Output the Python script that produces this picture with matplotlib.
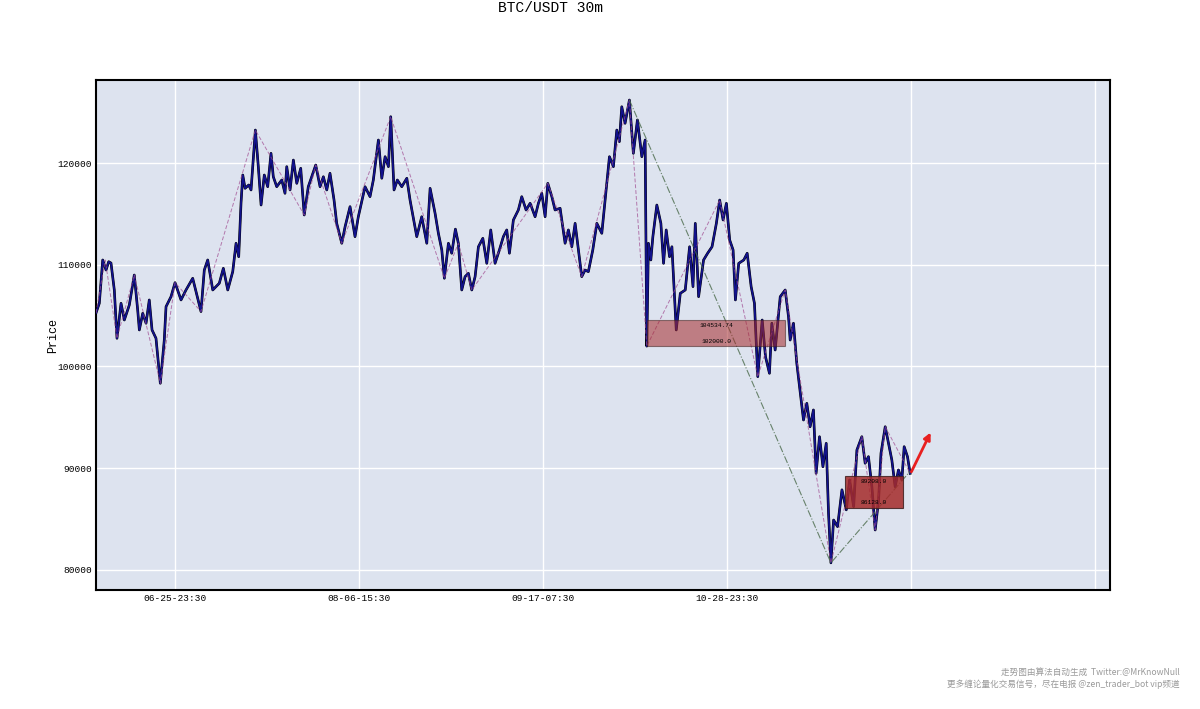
import numpy as np
import matplotlib.pyplot as plt

plt.rcParams["font.family"] = ["Liberation Mono", "Noto Sans CJK SC", "DejaVu Sans"]

# price path (bar index, price), 30m bars
bars = [0, 36, 73, 109, 138, 163, 199, 228, 272, 308, 362, 416, 453, 471, 508, 544,
        579, 609, 652, 699, 742, 761, 815, 859, 924, 978, 1051, 1141, 1177, 1214,
        1269, 1340, 1384, 1432, 1486, 1522, 1551, 1576, 1595, 1620, 1660, 1685,
        1732, 1764, 1794, 1829, 1866, 1902, 1927, 1964, 2019, 2054, 2073, 2109,
        2145, 2182, 2225, 2263, 2307, 2388, 2435, 2471, 2508, 2543, 2587, 2616,
        2671, 2707, 2761, 2815, 2851, 2924, 2978, 3014, 3069, 3106, 3142, 3178,
        3203, 3239, 3275, 3323, 3378, 3413, 3486, 3540, 3595, 3631, 3685, 3721,
        3758, 3786, 3830, 3866, 3906, 3938, 3975, 4011, 4047, 4084, 4120, 4156,
        4204, 4247, 4290, 4337, 4384, 4427, 4464, 4493, 4536, 4590, 4627, 4674,
        4718, 4772, 4808, 4845, 4881, 4910, 4954, 4989, 5044, 5098, 5134, 5171,
        5207, 5243, 5279, 5315, 5351, 5399, 5443, 5497, 5533, 5580, 5623, 5660,
        5688, 5714, 5750, 5797, 5840, 5884, 5932, 5968, 5986, 6004, 6030, 6052,
        6095, 6139, 6168, 6197, 6233, 6259, 6306, 6350, 6404, 6451, 6488, 6513,
        6549, 6603, 6647, 6695, 6742, 6778, 6815, 6851, 6887, 6924, 6949, 6985,
        7040, 7077, 7120, 7156, 7192, 7240, 7276, 7319, 7345, 7381, 7436, 7490,
        7526, 7544, 7580, 7616, 7653, 7689, 7725, 7761, 7797, 7826, 7863, 7900,
        7936, 7961, 7987, 8016, 8059, 8107, 8154, 8190, 8234, 8269, 8323, 8359,
        8395, 8432, 8468, 8505, 8531, 8577, 8613, 8649, 8685, 8721, 8758, 8783,
        8819, 8848]
price = [105260, 106210, 110470, 109480, 110300, 110170, 107520, 102770, 106210,
         104570, 106040, 108990, 105550, 103590, 105230, 104250, 106540, 103590,
         102770, 98350, 102600, 105880, 106860, 108240, 106540, 107520, 108670,
         105400, 109480, 110470, 107520, 108180, 109650, 107520, 109320, 112110,
         110790, 116040, 118820, 117510, 117840, 117350, 123240, 119640, 115870,
         118820, 117670, 120950, 118650, 117670, 118330, 117020, 119640, 117350,
         120290, 118000, 119480, 114890, 117670, 119800, 117670, 118650, 117350,
         118990, 116360, 114070, 112110, 113740, 115710, 112760, 114720, 117670,
         116690, 118330, 122260, 118500, 120620, 119640, 124550, 117350, 118330,
         117670, 118500, 116360, 112760, 114720, 112110, 117510, 115060, 113090,
         111450, 108670, 112110, 111130, 113500, 112110, 107520, 108830, 109160,
         107520, 108830, 111770, 112600, 110140, 113420, 110140, 111450, 112760,
         113420, 111130, 114400, 115380, 116690, 115380, 116040, 114720, 116040,
         117020, 114720, 118000, 116690, 115380, 115550, 112110, 113420, 111770,
         114070, 111450, 108830, 109480, 109320, 111450, 114070, 113090, 116360,
         120620, 119640, 123240, 122100, 125530, 123900, 126190, 120950, 124230,
         120620, 122260, 102000, 112110, 110470, 112760, 115870, 114070, 110140,
         113420, 110790, 111770, 103590, 107190, 107520, 111770, 107850, 114070,
         106860, 110470, 111130, 111770, 114070, 116360, 114400, 116040, 112430,
         111450, 106540, 110140, 110470, 111130, 107850, 106210, 99000, 104570,
         100960, 99330, 104250, 101620, 106860, 107520, 104900, 102600, 104250,
         100310, 97500, 94740, 96380, 94080, 95730, 89500, 93100, 90150, 92450,
         85570, 80700, 84910, 84260, 87880, 85910, 88850, 86230, 91790, 93100,
         90490, 91140, 88190, 83930, 86880, 91470, 94080, 92450, 90810, 88190,
         89830, 88850, 92120, 91140, 89500]

# bi (stroke) pivots
bi_bars = [0, 100, 228, 416, 699, 859, 1141, 1732, 2263, 2388, 2671, 3203, 3786,
           3938, 4084, 4910, 5279, 5797, 5986, 6778, 7192, 7490, 7987, 8323, 8468,
           8577, 8848]
bi_price = [105260, 110470, 102770, 108990, 98350, 108240, 105400, 123240, 114890,
            119800, 112110, 124550, 108670, 112110, 107520, 118000, 108830, 126190,
            102000, 116360, 99000, 107520, 80700, 93100, 83930, 94080, 89500]

# segment pivots
seg_bars = [5797, 7987, 8848]
seg_price = [126190, 80700, 89700]

# pivot zones: (start bar, end bar, low, high)
zs_start = [5986, 8142]
zs_end = [7490, 8769]
zs_low = [102000.0, 86128.0]
zs_high = [104534.74, 89208.0]
zs_alpha = [0.55, 0.85]

arrow_bars = [8848, 9084]
arrow_price = [89400, 93760]

tick_bars = [860, 2860, 4860, 6860, 8860, 10860]
tick_labels = ["06-25-23:30", "08-06-15:30", "09-17-07:30", "10-28-23:30", "", ""]

fig = plt.figure(figsize=(12, 7.09), dpi=100)
ax = fig.add_axes([0.08, 0.1678, 0.845, 0.7194])
ax.set_facecolor("#dde3ef")

ax.grid(True, color="white", lw=1)
ax.set_axisbelow(True)

ax.plot(bars, price, color="black", lw=1.9, zorder=2)
ax.plot(bars, price, color="#12128c", lw=1.3, zorder=3)
ax.plot(bi_bars, bi_price, color="#a04a90", lw=0.7, ls=(0, (4, 2)), alpha=0.7, zorder=4)
ax.plot(seg_bars, seg_price, color="#4a6a4a", lw=0.8, ls="-.", alpha=0.8, zorder=4)

for s, e, lo, hi, a in zip(zs_start, zs_end, zs_low, zs_high, zs_alpha):
    ax.add_patch(plt.Rectangle((s, lo), e - s, hi - lo, facecolor="#a52a2a",
                               edgecolor="#402020", lw=0.8, alpha=a, zorder=5))
    ax.text((s + e) / 2, hi - 250, str(hi), fontsize=4.5, ha="center", va="top", zorder=6)
    ax.text((s + e) / 2, lo + 250, str(lo), fontsize=4.5, ha="center", va="bottom", zorder=6)

ax.annotate("", xy=(arrow_bars[1], arrow_price[1]), xytext=(arrow_bars[0], arrow_price[0]),
            arrowprops=dict(arrowstyle="-|>", color="#e82020", lw=2, mutation_scale=10),
            zorder=7)

ax.set_xlim(0, 11020)
ax.set_ylim(78030, 128160)
ax.set_xticks(tick_bars)
ax.set_xticklabels(tick_labels)
ax.set_yticks([80000, 90000, 100000, 110000, 120000])
ax.tick_params(length=0, labelsize=6.8, pad=3)
for sp in ax.spines.values():
    sp.set_linewidth(1.5)
    sp.set_color("black")
ax.set_ylabel("Price", fontsize=8.5, labelpad=-1)

fig.text(0.459, 0.998, "BTC/USDT 30m", ha="center", va="top", fontsize=10.5)
fig.text(0.983, 0.052, "走势图由算法自动生成  Twitter:@MrKnowNull", ha="right", va="center",
         fontsize=6.2, color="#9a9a9a", family=["Noto Sans CJK SC", "DejaVu Sans"])
fig.text(0.983, 0.035, "更多缠论量化交易信号，尽在电报 @zen_trader_bot vip频道", ha="right",
         va="center", fontsize=6.2, color="#9a9a9a", family=["Noto Sans CJK SC", "DejaVu Sans"])

plt.savefig("out.png", dpi=100)
